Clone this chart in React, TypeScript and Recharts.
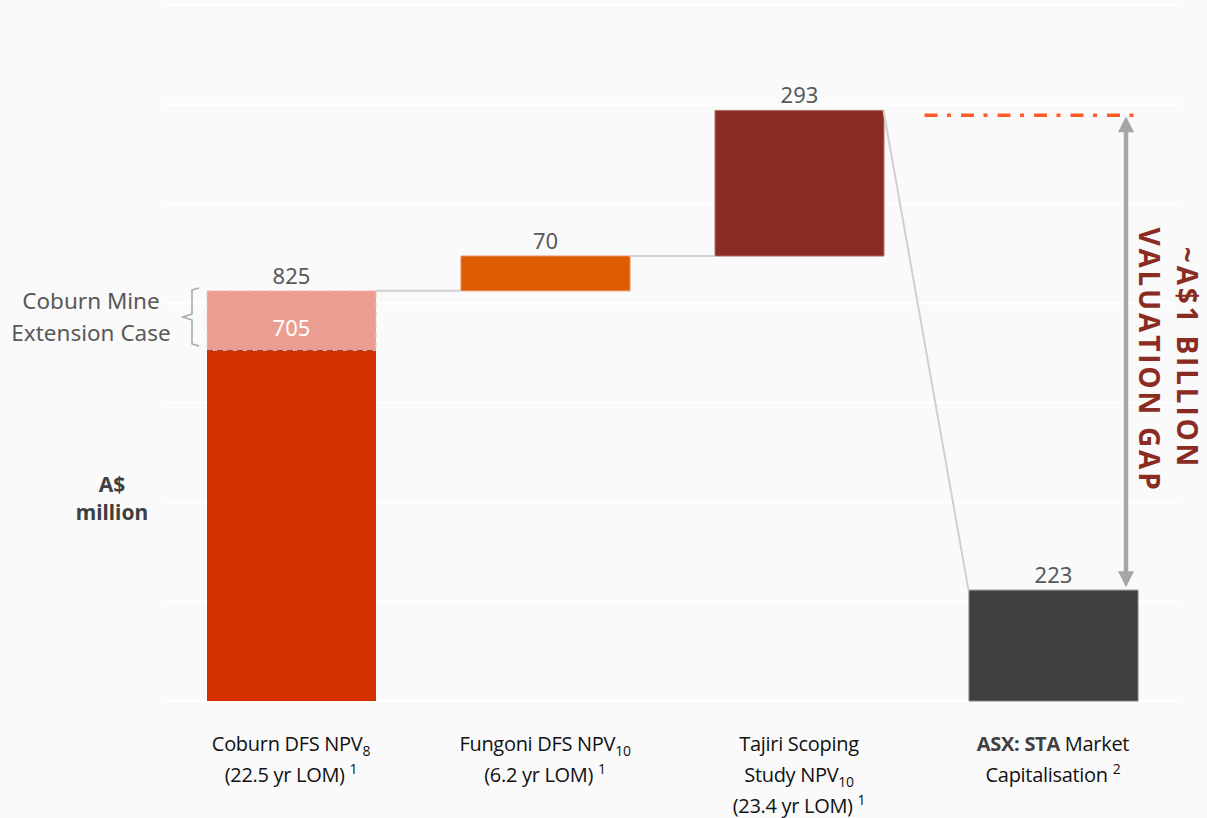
import React from 'react';
import {
  ComposedChart,
  Bar,
  XAxis,
  YAxis,
  CartesianGrid,
  ReferenceLine,
  LabelList,
  Cell,
} from 'recharts';

// categories along the x axis
const categories = ['Coburn', 'Fungoni', 'Tajiri', 'ASX'];

// A$ million
const coburnDfs = 705;
const coburnExtension = 825;
const fungoniNpv = 70;
const tajiriNpv = 293;
const marketCap = 223;
const gapLevel = 1178; // dash-dot level the gap arrow points to

const yTicks = [0, 200, 400, 600, 800, 1000, 1200, 1400];

// x tick text: each line is a list of runs
type Run = { t: string; sub?: boolean; sup?: boolean; bold?: boolean };
const tickText: Record<string, Run[][]> = {
  Coburn: [
    [{ t: 'Coburn DFS NPV' }, { t: '8', sub: true }],
    [{ t: '(22.5 yr LOM) ' }, { t: '1', sup: true }],
  ],
  Fungoni: [
    [{ t: 'Fungoni DFS NPV' }, { t: '10', sub: true }],
    [{ t: '(6.2 yr LOM) ' }, { t: '1', sup: true }],
  ],
  Tajiri: [
    [{ t: 'Tajiri Scoping' }],
    [{ t: 'Study NPV' }, { t: '10', sub: true }],
    [{ t: '(23.4 yr LOM) ' }, { t: '1', sup: true }],
  ],
  ASX: [
    [{ t: 'ASX: STA', bold: true }, { t: ' Market' }],
    [{ t: 'Capitalisation ' }, { t: '2', sup: true }],
  ],
};

const stepColors = ['#dd5c00', '#dd5c00', '#8b2c22', '#404040'];

const rows = [
  { name: categories[0], offset: 0, base: coburnDfs, ext: coburnExtension - coburnDfs, step: 0, cap: 0 },
  { name: categories[1], offset: coburnExtension, base: 0, ext: 0, step: fungoniNpv, cap: 0 },
  { name: categories[2], offset: coburnExtension + fungoniNpv, base: 0, ext: 0, step: tajiriNpv, cap: 0 },
  { name: categories[3], offset: 0, base: 0, ext: 0, step: 0, cap: marketCap },
];

const W = 1207;
const H = 818;
const BAR = 169;
const HALF = BAR / 2;
const labelFont = "'Noto Sans', 'Open Sans', sans-serif";
const tickFont = "'Open Sans', sans-serif";

const topLabel = (props: any) => {
  const { x, y, width, value } = props;
  if (!value) return null;
  return (
    <text x={x + width / 2} y={y - 7} textAnchor="middle" fill="#595959" fontSize={22} fontFamily={labelFont}>
      {value}
    </text>
  );
};

const CategoryTick = (props: any) => {
  const { x, y, payload } = props;
  const lines = tickText[payload.value] || [];
  return (
    <g>
      {lines.map((line, i) => (
        <text
          key={i}
          x={x}
          y={y + 50 + i * 31}
          textAnchor="middle"
          fontSize={20}
          letterSpacing={-0.3}
          fontFamily={tickFont}
          fill="#111"
        >
          {line.map((r, j) => {
            if (r.sub) return <tspan key={j} dy={5} fontSize={14}>{r.t}</tspan>;
            if (r.sup) return <tspan key={j} dy={-8} fontSize={14}>{r.t}</tspan>;
            return (
              <tspan key={j} fontWeight={r.bold ? 700 : 400} fill={r.bold ? '#404040' : '#111'}>
                {r.t}
              </tspan>
            );
          })}
        </text>
      ))}
    </g>
  );
};

const ExtShape = (props: any) => {
  const { x, y, width, height } = props;
  if (!height) return null;
  return (
    <g>
      <rect x={x} y={y} width={width} height={height} fill="#ec9d91" />
      <rect x={x} y={y} width={width} height={height} fill="none" stroke="#f2c1b8" strokeDasharray="6 4" />
      <line x1={x} y1={y + height} x2={x + width} y2={y + height} stroke="#8a4a3e" strokeDasharray="6 4" />
    </g>
  );
};

export default function App() {
  return (
    <div style={{ position: 'absolute', left: 0, top: 0, width: W, height: H, background: '#fafafa' }}>
      <ComposedChart
        width={W}
        height={H}
        data={rows}
        margin={{ top: 5, right: 27, bottom: 0, left: 164 }}
        barSize={BAR}
      >
        <CartesianGrid vertical={false} stroke="#ffffff" strokeWidth={2} />
        <XAxis
          dataKey="name"
          height={117}
          axisLine={false}
          tickLine={false}
          tickSize={0}
          tickMargin={0}
          interval={0}
          tick={<CategoryTick />}
        />
        <YAxis hide domain={[0, 1400]} ticks={yTicks} />
        <Bar dataKey="offset" stackId="w" fill="transparent" isAnimationActive={false} />
        <Bar dataKey="base" stackId="w" fill="#d53000" isAnimationActive={false} />
        <Bar dataKey="ext" stackId="w" shape={<ExtShape />} isAnimationActive={false}>
          <LabelList
            dataKey="ext"
            content={(p: any) =>
              p.value ? (
                <g>
                  <text x={p.x + p.width / 2} y={p.y - 7} textAnchor="middle" fill="#595959" fontSize={22} fontFamily={labelFont}>
                    {coburnExtension}
                  </text>
                  <text x={p.x + p.width / 2} y={p.y + p.height - 15} textAnchor="middle" fill="#ffffff" fontSize={22} fontFamily={labelFont}>
                    {coburnDfs}
                  </text>
                </g>
              ) : null
            }
          />
        </Bar>
        <Bar dataKey="step" stackId="w" isAnimationActive={false}>
          {rows.map((r, i) => (
            <Cell key={i} fill={stepColors[i]} stroke={i === 2 ? '#b07068' : '#e8875a'} strokeWidth={1} />
          ))}
          <LabelList dataKey="step" content={topLabel} />
        </Bar>
        <Bar dataKey="cap" stackId="w" fill="#404040" stroke="#7f7f7f" strokeWidth={1} isAnimationActive={false}>
          <LabelList dataKey="cap" content={topLabel} />
        </Bar>

        {/* connectors between bars */}
        <ReferenceLine
          segment={[{ x: categories[0], y: coburnExtension }, { x: categories[1], y: coburnExtension }]}
          shape={(p: any) => <line x1={p.x1 + HALF} y1={p.y1} x2={p.x2 - HALF} y2={p.y2} stroke="#d0d0d0" strokeWidth={2} />}
        />
        <ReferenceLine
          segment={[{ x: categories[1], y: coburnExtension + fungoniNpv }, { x: categories[2], y: coburnExtension + fungoniNpv }]}
          shape={(p: any) => <line x1={p.x1 + HALF} y1={p.y1} x2={p.x2 - HALF} y2={p.y2} stroke="#d0d0d0" strokeWidth={2} />}
        />
        <ReferenceLine
          segment={[{ x: categories[2], y: coburnExtension + fungoniNpv + tajiriNpv }, { x: categories[3], y: marketCap }]}
          shape={(p: any) => <line x1={p.x1 + HALF} y1={p.y1} x2={p.x2 - HALF} y2={p.y2} stroke="#d0d0d0" strokeWidth={2} />}
        />
        {/* dash-dot target line */}
        <ReferenceLine
          segment={[{ x: categories[2], y: gapLevel }, { x: categories[3], y: gapLevel }]}
          shape={(p: any) => (
            <line x1={p.x1 + 125.5} y1={p.y1} x2={p.x2 + 80.5} y2={p.y2} stroke="#ff5b2b" strokeWidth={3.5} strokeDasharray="13 9.5 4 10" />
          )}
        />
        {/* valuation gap arrow */}
        <ReferenceLine
          segment={[{ x: categories[3], y: gapLevel }, { x: categories[3], y: marketCap }]}
          shape={(p: any) => {
            const ax = p.x1 + 73;
            const top = p.y1 + 1;
            const bot = p.y2 - 3;
            return (
              <g>
                <line x1={ax} y1={top + 14} x2={ax} y2={bot - 14} stroke="#a6a6a6" strokeWidth={4.5} />
                <polygon points={`${ax},${top} ${ax - 8},${top + 16} ${ax + 8},${top + 16}`} fill="#a6a6a6" />
                <polygon points={`${ax},${bot} ${ax - 8},${bot - 16} ${ax + 8},${bot - 16}`} fill="#a6a6a6" />
              </g>
            );
          }}
        />
      </ComposedChart>

      <svg width={W} height={H} style={{ position: 'absolute', left: 0, top: 0, pointerEvents: 'none' }}>
        <g fontFamily={labelFont} fontSize={22.5} fill="#595959" textAnchor="middle">
          <text x={91} y={309}>Coburn Mine</text>
          <text x={91} y={341}>Extension Case</text>
        </g>
        <path
          d="M199,288 L192,290 L192,314 L183,317 L192,320 L192,344 L199,346"
          fill="none"
          stroke="#a6a6a6"
          strokeWidth={1.5}
        />
        <g fontFamily={labelFont} fontSize={21} fontWeight={700} fill="#404040" textAnchor="middle">
          <text x={112} y={492}>A$</text>
          <text x={112} y={520}>million</text>
        </g>
        <g fontFamily="'Open Sans', sans-serif" fontSize={28} fontWeight={700} fill="#8b2c22" letterSpacing={2.8} textAnchor="middle" dominantBaseline="central">
          <text x={1188} y={358} transform="rotate(90, 1188, 358)">~A$1 BILLION</text>
          <text x={1150} y={360} transform="rotate(90, 1150, 360)">VALUATION GAP</text>
        </g>
      </svg>
    </div>
  );
}
